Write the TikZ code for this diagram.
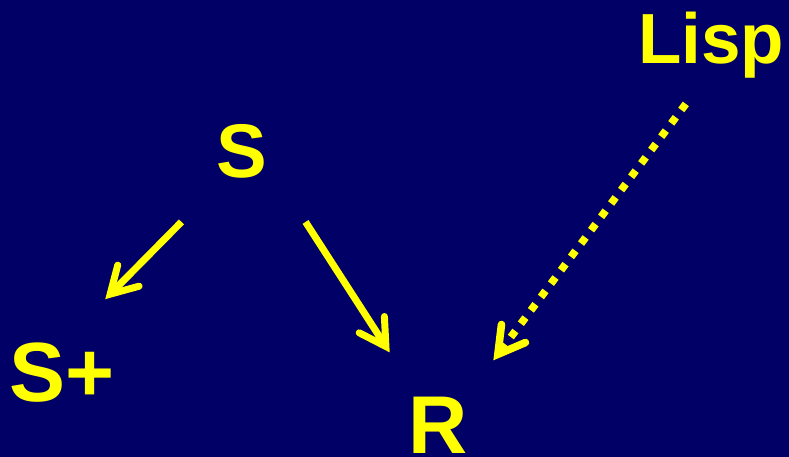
\documentclass[tikz,border=0pt]{standalone}
\usepackage{fontspec}
\setmainfont{Liberation Sans}
\usetikzlibrary{arrows.meta,positioning}
\definecolor{slidebg}{RGB}{0,0,102}
\definecolor{slidefg}{RGB}{255,255,0}
\newcommand{\lblsize}[1]{\bfseries\fontsize{#1}{#1}\selectfont}
\tikzset{
lbl/.style={text=slidefg, inner sep=0pt, anchor=base},
arr/.style={draw=slidefg, line width=7pt, -{Straight Barb[length=26pt, width=30pt, line cap=round, line join=miter]}},
darr/.style={arr, line width=7.6pt, dash pattern=on 7.6pt off 9.1pt}
}
\begin{document}
\begin{tikzpicture}[x=1pt, y=-1pt]
\useasboundingbox (0,0) rectangle (789,457);
\fill[slidebg] (0,0) rectangle (789,457);
\node[lbl, font=\lblsize{76}] (s) at (242,178) {S};
\node[lbl, font=\lblsize{84}] (splus) at (62,401) {S+};
\node[lbl, font=\lblsize{82}] (r) at (438,453) {R};
\node[lbl, font=\lblsize{71}] (lisp) at (711,64) {Lisp};
% solid arrows out of S
\draw[arr] ([shift={(-35,43)}]s.south west) -- ([shift={(-9.5,-43)}]splus.north east);
\draw[arr] ([shift={(38,43)}]s.south east) -- ([shift={(-18.5,-44)}]r.north west);
% dotted arrow from Lisp
\draw[darr] ([shift={(48,25)}]lisp.south west) -- ([shift={(25.5,-36)}]r.north east);
\end{tikzpicture}
\end{document}
